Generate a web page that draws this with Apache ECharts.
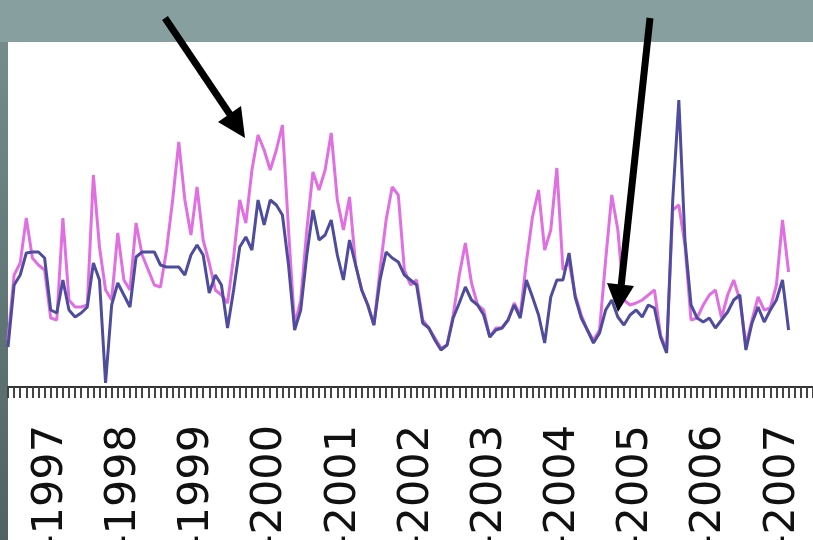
<!DOCTYPE html>
<html>
<head>
<meta charset="utf-8">
<title>monthly series 1996-2007</title>
<script src="https://cdn.jsdelivr.net/npm/echarts@6/dist/echarts.min.js"></script>
<style>
	html, body { margin:0; padding:0; background:#ffffff; }
	#mainChart { width:813px; height:540px; }
</style>
</head>
<body>
<div id="mainChart"></div>
<script>
	// month names used to build the category axis (Jun 1996 .. Jun 2007)
	var monthNames = ['Jan','Feb','Mar','Apr','May','Jun','Jul','Aug','Sep','Oct','Nov','Dec'];
	var firstYear = 1996;
	var firstMonth = 5; // June
	var monthCount = 133;

	// year labels shown under the axis
	var yearLabels = ['1997','1998','1999','2000','2001','2002','2003','2004','2005','2006','2007'];

	// pink series (arbitrary units)
	var pinkValues = [
		47,112,124,169,129,122,117,69,67,169,87,80,80,82,212,140,97,87,154,107,
		97,164,132,117,102,100,137,187,245,187,152,200,147,124,97,92,84,130,187,164,
		217,252,237,217,237,262,157,62,87,157,215,197,217,254,187,157,190,122,97,82,
		62,117,167,200,192,117,102,107,67,59,49,39,42,72,112,144,104,82,77,50,
		59,59,67,84,72,125,170,197,137,157,219,117,125,92,72,57,47,57,127,192,
		157,87,82,84,87,92,97,52,37,177,182,142,67,69,82,92,97,69,92,107,
		87,42,67,90,77,79,102,167,115
	];

	// dark blue series (arbitrary units)
	var blueValues = [
		40,102,112,134,135,135,129,77,74,107,77,70,74,80,124,107,4,82,104,92,
		80,130,135,135,135,122,120,120,120,112,132,142,132,94,112,102,59,97,140,150,
		137,187,162,187,182,172,122,57,77,132,177,147,152,167,132,107,147,122,97,82,
		62,107,135,129,125,112,107,102,64,59,47,37,42,69,84,100,87,82,72,50,
		57,59,67,82,69,107,90,72,44,90,107,107,134,90,69,57,44,54,77,87,
		70,62,72,77,70,82,79,50,34,187,287,147,82,69,65,69,59,67,75,87,
		92,37,64,80,65,77,87,107,57
	];

	function buildCategories(){
		var list = [];
		for (var i = 0; i < monthCount; i++) {
			var m = (firstMonth + i) % 12;
			var y = firstYear + Math.floor((firstMonth + i) / 12);
			list.push(monthNames[m] + '-' + y);
		}
		return list;
	}

	function init(){
		var categories = buildCategories();
		var myChart = echarts.init(document.getElementById('mainChart'));
		var option = {
			backgroundColor:'#ffffff',
			animation:false,
			grid:{
				left:8,
				right:0,
				top:87,
				bottom:153,
				containLabel:false,
				outerBoundsMode:'none'
			},
			xAxis:{
				type:'category',
				data:categories,
				boundaryGap:false,
				axisLine:{
					show:true,
					lineStyle:{ color:'#333333', width:2 }
				},
				axisTick:{
					show:true,
					interval:0,
					inside:false,
					length:11,
					lineStyle:{ color:'#444444', width:2 }
				},
				axisLabel:{
					interval:0,
					rotate:90,
					margin:38,
					fontFamily:'DejaVu Sans',
					fontSize:43,
					color:'#111111',
					formatter:function(value){
						var parts = value.split('-');
						if (parts[0] == 'Jan' && yearLabels.indexOf(parts[1]) >= 0) {
							return value;
						}
						return '';
					}
				},
				splitLine:{ show:false }
			},
			yAxis:{
				type:'value',
				min:0,
				max:300,
				show:false
			},
			series:[
				{
					name:'pink',
					type:'line',
					data:pinkValues,
					symbol:'none',
					lineStyle:{ color:'#e070e2', width:3 },
					z:2
				},
				{
					name:'blue',
					type:'line',
					data:blueValues,
					symbol:'none',
					lineStyle:{ color:'#4e4c9c', width:3 },
					z:3
				}
			],
			graphic:[
				// slide background band at the top and left edge
				{
					type:'rect',
					left:0, top:0,
					shape:{ width:813, height:42 },
					style:{ fill:'#87a09f' },
					z:0
				},
				{
					type:'rect',
					left:0, top:42,
					shape:{ width:8, height:498 },
					style:{
						fill:new echarts.graphic.LinearGradient(0,0,0,1,[
							{ offset:0, color:'#748c8c' },
							{ offset:1, color:'#4f6264' }
						])
					},
					z:0
				},
				// left arrow
				{
					type:'line',
					shape:{ x1:165, y1:18, x2:233, y2:119 },
					style:{ stroke:'#000000', lineWidth:7 },
					z:10
				},
				{
					type:'polygon',
					shape:{ points:[[245,138],[218,122],[241,106]] },
					style:{ fill:'#000000' },
					z:10
				},
				// right arrow
				{
					type:'line',
					shape:{ x1:650, y1:18, x2:621, y2:287 },
					style:{ stroke:'#000000', lineWidth:7 },
					z:10
				},
				{
					type:'polygon',
					shape:{ points:[[618,312],[607,283],[634,286]] },
					style:{ fill:'#000000' },
					z:10
				}
			]
		};
		myChart.setOption(option);
	}

	init();
</script>
</body>
</html>
